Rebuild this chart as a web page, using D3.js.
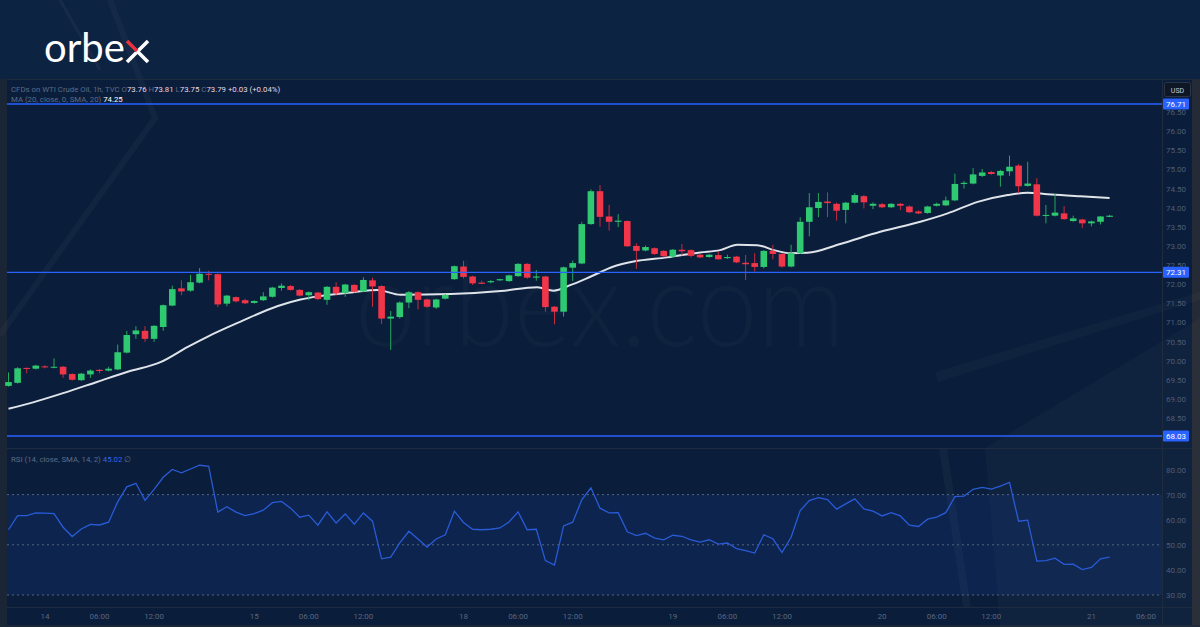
<!DOCTYPE html>
<html>
<head>
<meta charset="utf-8">
<script src="https://cdn.jsdelivr.net/npm/d3@7"></script>
<style>
  html, body { margin: 0; padding: 0; background: #0d2342; }
  svg { display: block; }
</style>
</head>
<body>
<div id="chart"></div>
<script>
// hourly bars, 13th 20:00 -> 21st 02:00 (gaps collapsed)
var opens  = [69.34,69.42,69.81,69.79,69.85,69.82,69.84,69.65,69.49,69.64,69.76,69.74,69.77,70.21,70.69,70.78,70.57,70.88,71.44,71.89,
              71.83,72.04,72.27,72.26,71.49,71.66,71.58,71.51,71.58,71.67,71.90,71.95,71.85,71.71,71.78,71.59,71.93,71.77,71.98,71.81,
              72.10,71.95,71.10,71.14,71.52,71.79,71.60,71.39,71.62,72.13,72.46,72.20,72.04,72.05,72.10,72.08,72.21,72.53,72.17,72.20,
              71.41,71.28,72.43,72.54,73.57,74.43,73.77,73.63,73.65,73.00,72.88,72.94,72.87,72.72,72.90,72.89,72.77,72.71,72.76,72.68,
              72.72,72.56,72.55,72.45,72.87,72.79,72.46,72.81,73.63,73.99,74.16,74.10,73.94,74.13,74.30,74.05,74.09,74.01,74.10,74.03,
              73.90,73.86,74.05,74.06,74.19,74.62,74.63,74.83,74.93,74.84,74.95,75.10,74.57,74.61,73.79,73.79,73.85,73.65,73.69,73.59,
              73.63,73.76]
var highs  = [69.69,69.83,69.82,69.89,69.88,70.06,69.86,69.67,69.68,69.77,69.78,69.84,70.42,70.78,70.90,70.90,70.93,71.47,71.96,72.10,
              72.24,72.42,72.35,72.28,71.72,71.68,71.62,71.58,71.79,71.93,72.02,71.98,71.87,71.81,71.80,71.95,72.05,72.01,72.00,72.18,
              72.17,71.97,71.30,71.55,71.82,71.81,71.62,71.62,71.74,72.49,72.61,72.22,72.09,72.11,72.14,72.25,72.55,72.55,72.37,72.22,
              71.43,72.46,72.62,73.63,74.48,74.59,74.07,73.83,73.67,73.07,73.01,72.96,72.89,72.92,73.05,72.91,72.79,72.79,72.85,72.77,
              72.74,72.76,72.81,72.89,73.03,72.81,73.03,73.75,74.38,74.38,74.40,74.13,74.15,74.38,74.33,74.14,74.12,74.12,74.12,74.06,
              73.93,74.05,74.13,74.29,74.89,74.70,75.04,75.01,74.96,74.99,75.36,75.14,75.20,74.77,74.07,74.36,74.04,73.79,73.71,73.66,
              73.78,73.81]
var lows   = [69.32,69.40,69.67,69.77,69.80,69.80,69.55,69.48,69.47,69.55,69.67,69.72,69.75,70.19,70.57,70.49,70.49,70.78,71.42,71.71,
              71.80,72.02,72.10,71.40,71.42,71.52,71.48,71.49,71.56,71.65,71.83,71.83,71.68,71.58,71.58,71.46,71.70,71.67,71.78,71.79,
              71.41,70.96,70.28,71.10,71.37,71.34,71.38,71.35,71.60,72.11,72.15,71.98,72.00,72.02,72.08,72.06,72.19,72.14,72.09,71.28,
              70.95,71.15,72.08,72.52,73.55,73.50,73.40,73.49,72.97,72.40,72.86,72.76,72.70,72.70,72.75,72.70,72.68,72.69,72.64,72.66,
              72.55,72.11,72.33,72.41,72.65,72.43,72.44,72.79,73.25,73.75,73.75,73.66,73.59,74.11,73.98,73.96,73.99,73.99,73.94,73.86,
              73.83,73.84,74.03,74.04,74.17,74.50,74.61,74.80,74.86,74.55,74.83,74.38,74.55,73.77,73.59,73.77,73.68,73.63,73.47,73.51,
              73.56,73.75]
var closes = [69.44,69.80,69.79,69.87,69.83,69.84,69.64,69.50,69.66,69.74,69.73,69.79,70.22,70.67,70.79,70.57,70.91,71.45,71.87,71.81,
              72.05,72.27,72.25,71.47,71.70,71.55,71.50,71.56,71.68,71.91,71.96,71.85,71.70,71.79,71.61,71.93,71.76,71.99,71.80,72.11,
              71.94,71.10,71.15,71.52,71.79,71.59,71.41,71.60,71.72,72.47,72.19,72.02,72.01,72.08,72.13,72.23,72.53,72.17,72.20,71.40,
              71.28,72.44,72.55,73.57,74.43,73.76,73.63,73.66,72.99,72.87,72.97,72.79,72.73,72.90,72.86,72.74,72.70,72.77,72.65,72.71,
              72.57,72.52,72.45,72.87,72.79,72.46,72.81,73.63,74.01,74.15,74.12,73.92,74.13,74.33,74.14,74.10,74.01,74.10,74.05,73.88,
              73.85,74.03,74.10,74.19,74.62,74.65,74.87,74.92,74.88,74.96,75.07,74.56,74.63,73.79,73.81,73.87,73.70,73.72,73.59,73.64,
              73.77,73.79]

// MA(20): [bar, value]
var maPoints = [[0,68.74],[2.7,68.91],[6,69.15],[9.8,69.45],[13.1,69.71],[16.7,69.96],[19.7,70.36],[21.9,70.63],[25.5,71.02],
                [29.6,71.43],[32.1,71.60],[34.3,71.69],[37.9,71.79],[40.5,71.85],[43.1,71.72],[48.6,71.74],[54.1,71.82],
                [58.1,71.92],[59.9,71.83],[61.8,71.98],[64,72.20],[66.5,72.46],[68.7,72.59],[72.4,72.70],[76,72.83],[78.2,72.89],
                [80.1,73.03],[82.3,73.02],[84.1,72.89],[85.9,72.81],[87.8,72.82],[91.4,73.05],[95.8,73.37],[100.2,73.63],
                [103.2,73.85],[106.5,74.15],[109.8,74.33],[112,74.39],[114.2,74.35],[117.8,74.30],[121,74.25]]

// RSI(14) per bar
var rsi = [56.0,61.6,61.6,62.7,62.6,62.4,57.0,53.3,56.3,58.1,57.9,59.0,67.1,73.1,74.5,67.7,72.1,76.9,80.0,78.7,
           80.2,81.7,81.3,63.0,65.2,63.0,61.6,62.4,63.8,66.8,67.3,64.6,61.0,61.8,57.8,63.1,58.7,62.3,58.2,62.7,
           59.4,44.4,45.1,50.8,55.4,52.3,49.1,52.3,54.0,63.4,58.9,56.2,56.0,56.2,56.7,59.1,63.1,56.0,56.2,43.7,
           41.9,57.5,59.0,67.9,72.7,64.6,62.7,62.8,55.2,53.7,54.6,52.7,52.0,53.8,53.4,52.0,51.1,52.0,50.3,50.7,
           48.5,47.7,46.7,54.0,52.4,46.9,53.0,63.6,67.6,68.8,68.0,64.2,66.3,68.3,64.3,63.4,61.5,62.8,61.5,57.8,
           57.3,60.2,61.0,62.8,69.2,69.4,72.1,72.9,72.2,73.4,74.9,59.4,59.8,43.5,43.7,44.7,42.2,42.3,40.1,41.0,
           44.4,45.1]

var levels = [76.71, 72.31, 68.03]
var priceTicks = [68.5,69.0,69.5,70.0,70.5,71.0,71.5,72.0,72.5,73.0,73.5,74.0,74.5,75.0,75.5,76.0,76.5]
var rsiTicks = [80, 70, 60, 50, 40, 30]
var rsiBands = [70, 50, 30]
var timeTickBars = [4,10,16,27,33,39,50,56,62,73,79,85,96,102,108,119,125]
var timeTickLabels = ["14","06:00","12:00","15","06:00","12:00","18","06:00","12:00","19","06:00","12:00","20","06:00","12:00","21","06:00"]

var W = 1200, H = 627
var plotL = 7, plotR = 1162, axisR = 1192
var mainTop = 79, mainBot = 448, rsiBot = 607, timeBot = 625

var svg = d3.select("#chart").append("svg").attr("width", W).attr("height", H)

var x = d3.scaleLinear().domain([0, 121]).range([8.5, 1109.6])
var y = d3.scaleLinear().domain([68.03, 76.71]).range([436, 104])
var yr = d3.scaleLinear().domain([30, 80]).range([595, 469.5])

var GREEN = "#2ec971", RED = "#f2364a", GREY = "#5e6c86"

// outer background + faint decoration
svg.append("rect").attr("width", W).attr("height", H).attr("fill", "#0d2342")
svg.append("rect").attr("x", plotL).attr("y", mainTop).attr("width", axisR - plotL).attr("height", timeBot - mainTop).attr("fill", "#0a1d3a")
svg.append("rect").attr("x", 0).attr("y", mainTop).attr("width", plotL).attr("height", timeBot - mainTop).attr("fill", "#1a2536")
svg.append("rect").attr("x", axisR).attr("y", mainTop).attr("width", W - axisR).attr("height", timeBot - mainTop).attr("fill", "#252b36")
svg.append("rect").attr("x", 0).attr("y", timeBot).attr("width", W).attr("height", H - timeBot).attr("fill", "#1a2536")

var deco = svg.append("g")
deco.append("polyline").attr("points", "110,0 155,118 0,335")
  .attr("fill", "none").attr("stroke", "#ffffff").attr("stroke-opacity", 0.03).attr("stroke-width", 6)
deco.append("polyline").attr("points", "60,0 100,70")
  .attr("fill", "none").attr("stroke", "#ffffff").attr("stroke-opacity", 0.04).attr("stroke-width", 3)
deco.append("polygon").attr("points", "935,372 1200,292 1200,300 938,382")
  .attr("fill", "#ffffff").attr("fill-opacity", 0.025)
deco.append("polygon").attr("points", "985,448 1200,318 1200,627 1000,627")
  .attr("fill", "#ffffff").attr("fill-opacity", 0.022)
deco.append("line").attr("x1", 943).attr("y1", 448).attr("x2", 967).attr("y2", 607)
  .attr("stroke", "#ffffff").attr("stroke-opacity", 0.03).attr("stroke-width", 8)

// logo
svg.append("text").attr("x", 44).attr("y", 62).text("orbe")
  .attr("font-family", "Lato, 'Open Sans', sans-serif").attr("font-size", 40).attr("fill", "#ffffff")
svg.append("line").attr("x1", 127).attr("y1", 62).attr("x2", 148).attr("y2", 41)
  .attr("stroke", "#ffffff").attr("stroke-width", 3.6)
svg.append("line").attr("x1", 127).attr("y1", 41).attr("x2", 138).attr("y2", 52)
  .attr("stroke", "#e8333f").attr("stroke-width", 3.6)
svg.append("line").attr("x1", 137).attr("y1", 51).attr("x2", 148).attr("y2", 62)
  .attr("stroke", "#ffffff").attr("stroke-width", 3.6)

// watermark
svg.append("text").attr("x", 355).attr("y", 346).text("orbex.com")
  .attr("font-family", "Lato, sans-serif").attr("font-size", 118).attr("font-weight", 300)
  .attr("textLength", 490).attr("lengthAdjust", "spacingAndGlyphs")
  .attr("fill", "#ffffff").attr("fill-opacity", 0.025)

// pane borders
var borders = svg.append("g").attr("stroke", "#1f2c40").attr("stroke-width", 1)
borders.append("line").attr("x1", plotL).attr("x2", axisR).attr("y1", mainTop + 0.5).attr("y2", mainTop + 0.5)
borders.append("line").attr("x1", plotL).attr("x2", axisR).attr("y1", mainBot + 0.5).attr("y2", mainBot + 0.5)
borders.append("line").attr("x1", plotL).attr("x2", axisR).attr("y1", rsiBot + 0.5).attr("y2", rsiBot + 0.5)
borders.append("line").attr("x1", plotR + 0.5).attr("x2", plotR + 0.5).attr("y1", mainTop).attr("y2", timeBot)

// price axis ticks
svg.append("g").selectAll("text").data(priceTicks).enter().append("text")
  .attr("x", 1166).attr("y", function(d) { return y(d) + 3 })
  .text(function(d) { return d.toFixed(2) })
  .attr("font-family", "Roboto, sans-serif").attr("font-size", 8).attr("fill", "#4f5d76")

// MA line
var maLine = d3.line().x(function(d) { return x(d[0]) }).y(function(d) { return y(d[1]) }).curve(d3.curveMonotoneX)
svg.append("path").datum(maPoints).attr("d", maLine)
  .attr("fill", "none").attr("stroke", "#dfe3ea").attr("stroke-width", 2)

// candles
var idx = d3.range(opens.length)
var candles = svg.append("g").selectAll("g").data(idx).enter().append("g")
candles.append("line")
  .attr("x1", function(i) { return x(i) }).attr("x2", function(i) { return x(i) })
  .attr("y1", function(i) { return y(highs[i]) }).attr("y2", function(i) { return y(lows[i]) })
  .attr("stroke", function(i) { return closes[i] >= opens[i] ? "#23a85c" : "#c92c3e" }).attr("stroke-width", 1)
candles.append("rect")
  .attr("x", function(i) { return x(i) - 3.3 }).attr("width", 6.6)
  .attr("y", function(i) { return y(Math.max(opens[i], closes[i])) })
  .attr("height", function(i) { return Math.max(1, Math.abs(y(opens[i]) - y(closes[i]))) })
  .attr("fill", function(i) { return closes[i] >= opens[i] ? GREEN : RED })

// level lines + labels
var lv = svg.append("g").selectAll("g").data(levels).enter().append("g")
lv.append("line").attr("x1", plotL).attr("x2", plotR).attr("y1", function(d) { return y(d) }).attr("y2", function(d) { return y(d) })
  .attr("stroke", "#2962ff").attr("stroke-width", 1.3)
lv.append("rect").attr("x", plotR + 1).attr("y", function(d) { return y(d) - 5.5 }).attr("width", 26).attr("height", 11)
  .attr("fill", "#2962ff").attr("rx", 1)
lv.append("text").attr("x", plotR + 14).attr("y", function(d) { return y(d) + 3 }).attr("text-anchor", "middle")
  .text(function(d) { return d.toFixed(2) })
  .attr("font-family", "Roboto, sans-serif").attr("font-size", 8).attr("fill", "#ffffff")

// USD box
svg.append("rect").attr("x", 1164.5).attr("y", 82.5).attr("width", 26).attr("height", 14).attr("rx", 2)
  .attr("fill", "#0e1725").attr("stroke", "#2b3547")
svg.append("text").attr("x", 1177.5).attr("y", 92.5).attr("text-anchor", "middle").text("USD")
  .attr("font-family", "Roboto, sans-serif").attr("font-size", 7).attr("fill", "#c9ced8")

// legend lines
var lg = svg.append("g").attr("font-family", "Roboto, sans-serif").attr("font-size", 7.8)
var t1 = lg.append("text").attr("x", 11).attr("y", 92)
t1.append("tspan").text("CFDs on WTI Crude Oil, 1h, TVC  ").attr("fill", GREY)
var ohlc = [["O", "73.76"], ["H", "73.81"], ["L", "73.75"], ["C", "73.79"]]
ohlc.forEach(function(p) {
  t1.append("tspan").text(p[0]).attr("fill", GREY)
  t1.append("tspan").text(p[1] + "  ").attr("fill", "#e4d9e6")
})
t1.append("tspan").text("+0.03 (+0.04%)").attr("fill", "#e4d9e6")
var t2 = lg.append("text").attr("x", 11).attr("y", 102)
t2.append("tspan").text("MA (20, close, 0, SMA, 20)  ").attr("fill", GREY)
t2.append("tspan").text("74.25").attr("fill", "#ffffff")

// RSI pane
svg.append("rect").attr("x", plotL).attr("width", plotR - plotL)
  .attr("y", yr(70)).attr("height", yr(30) - yr(70)).attr("fill", "#2962ff").attr("fill-opacity", 0.1)
svg.append("g").selectAll("line").data(rsiBands).enter().append("line")
  .attr("x1", plotL).attr("x2", plotR).attr("y1", function(d) { return yr(d) }).attr("y2", function(d) { return yr(d) })
  .attr("stroke", "#56647d").attr("stroke-dasharray", "2,3").attr("stroke-width", 1)
var rsiLine = d3.line().x(function(d, i) { return x(i) }).y(function(d) { return yr(d) })
svg.append("path").datum(rsi).attr("d", rsiLine)
  .attr("fill", "none").attr("stroke", "#2a5bd7").attr("stroke-width", 1.3)
svg.append("g").selectAll("text").data(rsiTicks).enter().append("text")
  .attr("x", 1166).attr("y", function(d) { return yr(d) + 3 })
  .text(function(d) { return d.toFixed(2) })
  .attr("font-family", "Roboto, sans-serif").attr("font-size", 8).attr("fill", "#4f5d76")
var t3 = lg.append("text").attr("x", 11).attr("y", 462)
t3.append("tspan").text("RSI (14, close, SMA, 14, 2)  ").attr("fill", GREY)
t3.append("tspan").text("45.02").attr("fill", "#2f67f0")
t3.append("tspan").text("  \u2205").attr("fill", GREY)

// time axis
svg.append("g").selectAll("text").data(timeTickBars).enter().append("text")
  .attr("x", function(d) { return x(d) }).attr("y", 619).attr("text-anchor", "middle")
  .text(function(d, i) { return timeTickLabels[i] })
  .attr("font-family", "Roboto, sans-serif").attr("font-size", 8).attr("fill", "#5a6780")
</script>
</body>
</html>
